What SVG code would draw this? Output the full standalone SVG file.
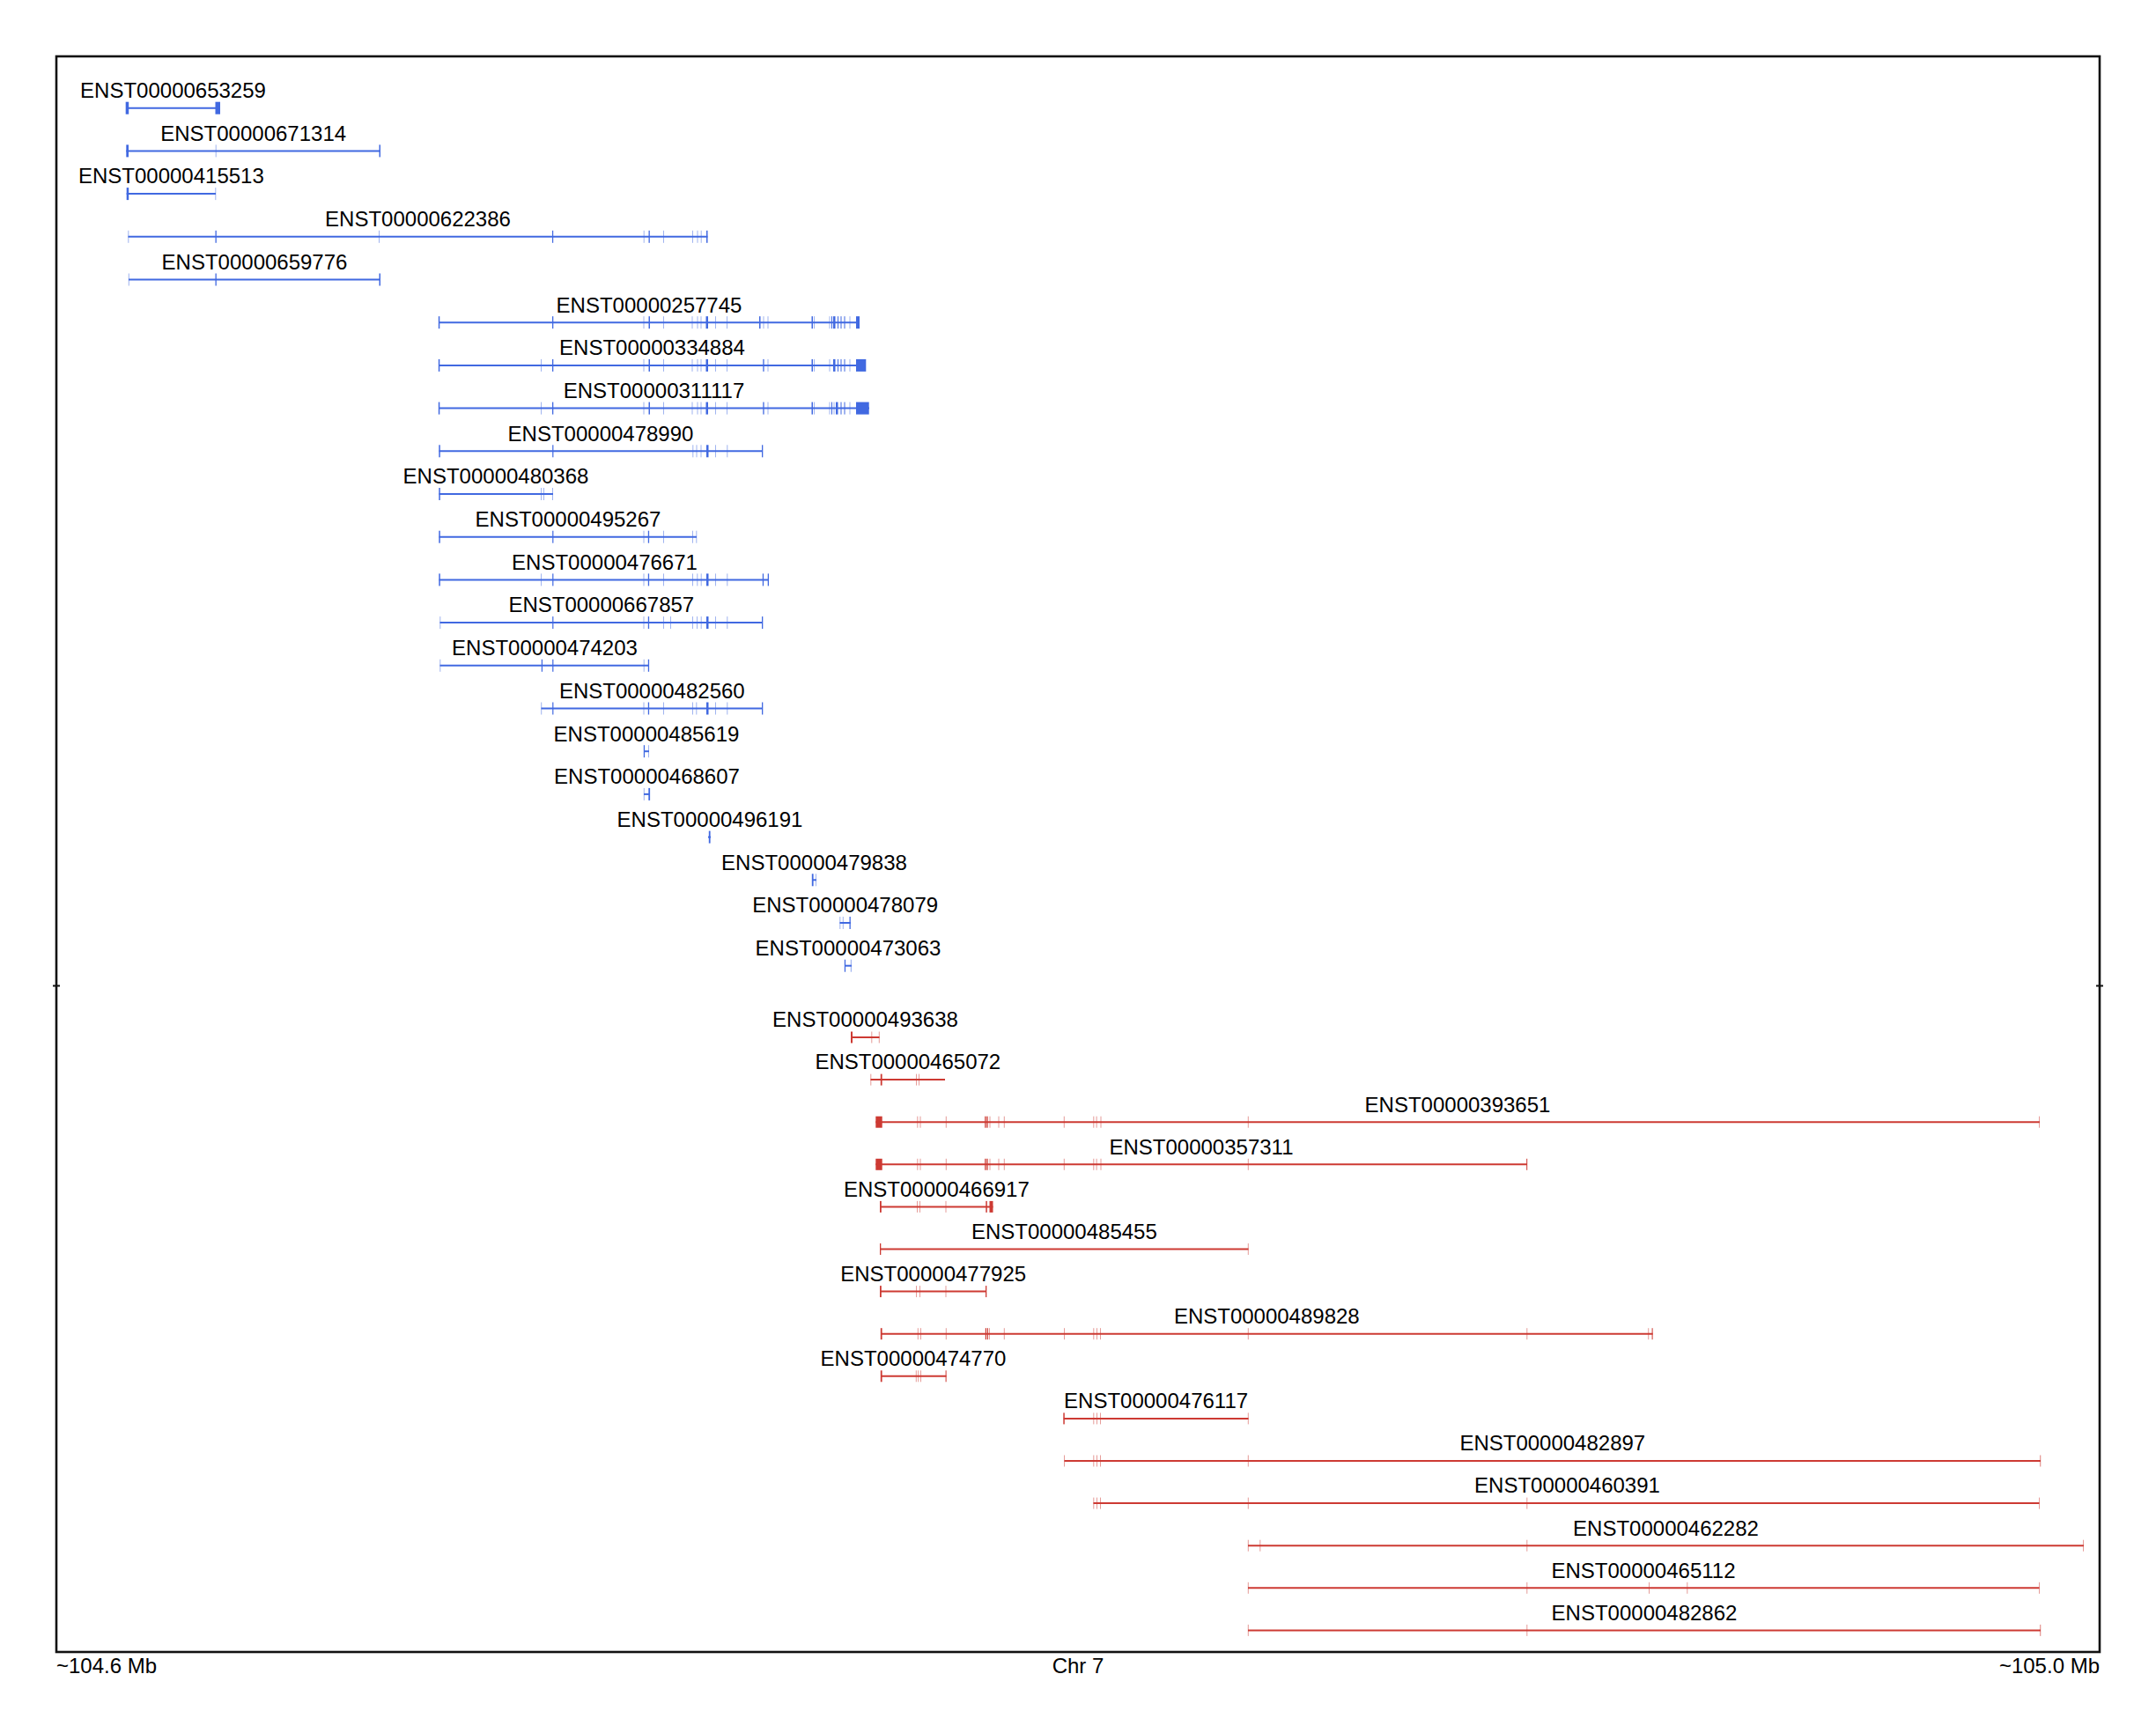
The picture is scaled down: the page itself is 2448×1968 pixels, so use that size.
<svg xmlns="http://www.w3.org/2000/svg" width="2448" height="1968" viewBox="0 0 2448 1968">
<style>
text{font-family:"Liberation Sans",Arial,Helvetica,sans-serif;font-size:24px;fill:#000}
.tx text{text-anchor:middle}
.b line{stroke:#4169E1;stroke-width:2}
.b rect{fill:#4169E1}
.r line{stroke:#CD3A33;stroke-width:2}
.r rect{fill:#CD3A33}
.l{opacity:.5}
.ax{font-size:24px}
</style>
<rect id="frame" x="64" y="64" width="2320" height="1812" fill="none" stroke="#111" stroke-width="2.6"/>
<g id="separator" stroke="#111" stroke-width="2"><line x1="60" y1="1119.5" x2="68" y2="1119.5"/><line x1="2380" y1="1119.5" x2="2388" y2="1119.5"/></g>

<g id="ENST00000653259" class="tx b" transform="translate(0,122.7)"><line x1="143" x2="250"/><rect x="142.7" y="-7" width="3.5" height="14"/><rect x="244.5" y="-7" width="5.5" height="14"/><text x="196.5" y="-11.7">ENST00000653259</text></g>
<g id="ENST00000671314" class="tx b" transform="translate(0,171.4)"><line x1="143.3" x2="432"/><rect x="143.3" y="-7" width="2.7" height="14"/><rect class="l" x="244.7" y="-7" width="1" height="14"/><rect x="430.5" y="-7" width="1.5" height="14"/><text x="287.7" y="-11.7">ENST00000671314</text></g>
<g id="ENST00000415513" class="tx b" transform="translate(0,220.1)"><line x1="143.7" x2="245"/><rect x="143.7" y="-7" width="2.5" height="14"/><rect class="l" x="244.3" y="-7" width="1" height="14"/><text x="194.4" y="-11.7">ENST00000415513</text></g>
<g id="ENST00000622386" class="tx b" transform="translate(0,268.8)"><line x1="145.5" x2="803.5"/><rect class="l" x="145.3" y="-7" width="1" height="14"/><rect x="244.5" y="-7" width="1.3" height="14"/><rect class="l" x="430" y="-7" width="1" height="14"/><rect x="627" y="-7" width="1.2" height="14"/><rect class="l" x="730.7" y="-7" width="1" height="14"/><rect x="736.5" y="-7" width="1.3" height="14"/><rect class="l" x="753" y="-7" width="1" height="14"/><rect class="l" x="786" y="-7" width="1" height="14"/><rect class="l" x="791.5" y="-7" width="1" height="14"/><rect class="l" x="795.7" y="-7" width="1" height="14"/><rect x="802" y="-7" width="1.5" height="14"/><text x="474.5" y="-11.7">ENST00000622386</text></g>
<g id="ENST00000659776" class="tx b" transform="translate(0,317.5)"><line x1="146" x2="432"/><rect class="l" x="145.8" y="-7" width="1" height="14"/><rect x="244.5" y="-7" width="1.3" height="14"/><rect x="430.5" y="-7" width="1.5" height="14"/><text x="289" y="-11.7">ENST00000659776</text></g>
<g id="ENST00000257745" class="tx b" transform="translate(0,366.2)"><line x1="498" x2="976"/><rect x="497.8" y="-7" width="1.5" height="14"/><rect x="627" y="-7" width="1.3" height="14"/><rect class="l" x="730.5" y="-7" width="1" height="14"/><rect x="736.5" y="-7" width="1.5" height="14"/><rect class="l" x="753" y="-7" width="1" height="14"/><rect class="l" x="785.5" y="-7" width="1" height="14"/><rect class="l" x="791.5" y="-7" width="1" height="14"/><rect class="l" x="795.5" y="-7" width="1" height="14"/><rect x="801.5" y="-7" width="2.5" height="14"/><rect class="l" x="812" y="-7" width="1" height="14"/><rect class="l" x="825" y="-7" width="1" height="14"/><rect x="862" y="-7" width="1.5" height="14"/><rect class="l" x="866.5" y="-7" width="1" height="14"/><rect class="l" x="871.5" y="-7" width="1" height="14"/><rect x="921.5" y="-7" width="1.5" height="14"/><rect class="l" x="924" y="-7" width="1" height="14"/><rect class="l" x="941.5" y="-7" width="1" height="14"/><rect x="944" y="-7" width="1" height="14"/><rect x="946" y="-7" width="2.5" height="14"/><rect x="951" y="-7" width="1" height="14"/><rect x="954.5" y="-7" width="1" height="14"/><rect x="958.5" y="-7" width="1" height="14"/><rect class="l" x="964.5" y="-7" width="1" height="14"/><rect x="972" y="-7" width="4" height="14"/><text x="737" y="-11.7">ENST00000257745</text></g>
<g id="ENST00000334884" class="tx b" transform="translate(0,414.9)"><line x1="498" x2="983"/><rect x="497.8" y="-7" width="1.5" height="14"/><rect class="l" x="614" y="-7" width="1" height="14"/><rect x="627" y="-7" width="1.3" height="14"/><rect class="l" x="730.5" y="-7" width="1" height="14"/><rect x="736.5" y="-7" width="1.5" height="14"/><rect class="l" x="753" y="-7" width="1" height="14"/><rect class="l" x="785.5" y="-7" width="1" height="14"/><rect class="l" x="791.5" y="-7" width="1" height="14"/><rect class="l" x="795.5" y="-7" width="1" height="14"/><rect x="801.5" y="-7" width="2.5" height="14"/><rect class="l" x="812" y="-7" width="1" height="14"/><rect class="l" x="825" y="-7" width="1" height="14"/><rect x="866.3" y="-7" width="1.3" height="14"/><rect class="l" x="871.5" y="-7" width="1" height="14"/><rect x="921.5" y="-7" width="1.5" height="14"/><rect class="l" x="924" y="-7" width="1" height="14"/><rect class="l" x="941.5" y="-7" width="1" height="14"/><rect x="946" y="-7" width="2.5" height="14"/><rect x="951" y="-7" width="1" height="14"/><rect x="954.5" y="-7" width="1" height="14"/><rect x="958.5" y="-7" width="1" height="14"/><rect class="l" x="964.5" y="-7" width="1" height="14"/><rect x="972" y="-7" width="11.3" height="14"/><text x="740.5" y="-11.7">ENST00000334884</text></g>
<g id="ENST00000311117" class="tx b" transform="translate(0,463.6)"><line x1="498" x2="987"/><rect x="497.8" y="-7" width="1.5" height="14"/><rect class="l" x="614" y="-7" width="1" height="14"/><rect x="627" y="-7" width="1.3" height="14"/><rect class="l" x="730.5" y="-7" width="1" height="14"/><rect x="736.5" y="-7" width="1.5" height="14"/><rect class="l" x="753" y="-7" width="1" height="14"/><rect class="l" x="785.5" y="-7" width="1" height="14"/><rect class="l" x="791.5" y="-7" width="1" height="14"/><rect class="l" x="795.5" y="-7" width="1" height="14"/><rect x="801.5" y="-7" width="2.5" height="14"/><rect class="l" x="812" y="-7" width="1" height="14"/><rect class="l" x="825" y="-7" width="1" height="14"/><rect x="866.3" y="-7" width="1.3" height="14"/><rect class="l" x="871.5" y="-7" width="1" height="14"/><rect x="921.5" y="-7" width="1.5" height="14"/><rect class="l" x="924" y="-7" width="1" height="14"/><rect class="l" x="941.5" y="-7" width="1" height="14"/><rect x="944" y="-7" width="1" height="14"/><rect class="l" x="946.5" y="-7" width="1" height="14"/><rect x="949" y="-7" width="2.5" height="14"/><rect x="954.5" y="-7" width="1" height="14"/><rect x="958.5" y="-7" width="1" height="14"/><rect class="l" x="964.5" y="-7" width="1" height="14"/><rect x="972" y="-7" width="14.7" height="14"/><text x="742.5" y="-11.7">ENST00000311117</text></g>
<g id="ENST00000478990" class="tx b" transform="translate(0,512.3)"><line x1="498.5" x2="866"/><rect x="498.3" y="-7" width="1.5" height="14"/><rect x="627.2" y="-7" width="1.2" height="14"/><rect class="l" x="786.3" y="-7" width="1" height="14"/><rect class="l" x="790.5" y="-7" width="1" height="14"/><rect class="l" x="795.5" y="-7" width="1" height="14"/><rect x="802" y="-7" width="2.5" height="14"/><rect class="l" x="812" y="-7" width="1" height="14"/><rect class="l" x="825.3" y="-7" width="1" height="14"/><rect x="865" y="-7" width="1.3" height="14"/><text x="682" y="-11.7">ENST00000478990</text></g>
<g id="ENST00000480368" class="tx b" transform="translate(0,561)"><line x1="498.5" x2="628"/><rect x="498.3" y="-7" width="1.5" height="14"/><rect class="l" x="614" y="-7" width="1" height="14"/><rect class="l" x="617" y="-7" width="1" height="14"/><rect class="l" x="627" y="-7" width="1" height="14"/><text x="563" y="-11.7">ENST00000480368</text></g>
<g id="ENST00000495267" class="tx b" transform="translate(0,609.7)"><line x1="498.5" x2="791"/><rect x="498.3" y="-7" width="1.5" height="14"/><rect x="627.2" y="-7" width="1.2" height="14"/><rect class="l" x="730.5" y="-7" width="1" height="14"/><rect x="735.8" y="-7" width="1.3" height="14"/><rect class="l" x="753" y="-7" width="1" height="14"/><rect class="l" x="786" y="-7" width="1" height="14"/><rect class="l" x="790.3" y="-7" width="1" height="14"/><text x="645" y="-11.7">ENST00000495267</text></g>
<g id="ENST00000476671" class="tx b" transform="translate(0,658.4)"><line x1="498.5" x2="873"/><rect x="498.3" y="-7" width="1.5" height="14"/><rect class="l" x="614" y="-7" width="1" height="14"/><rect x="627.2" y="-7" width="1.2" height="14"/><rect class="l" x="730.5" y="-7" width="1" height="14"/><rect x="735.8" y="-7" width="1.3" height="14"/><rect class="l" x="753" y="-7" width="1" height="14"/><rect class="l" x="786" y="-7" width="1" height="14"/><rect class="l" x="791.3" y="-7" width="1" height="14"/><rect class="l" x="795.7" y="-7" width="1" height="14"/><rect x="802" y="-7" width="2.5" height="14"/><rect class="l" x="812" y="-7" width="1" height="14"/><rect class="l" x="825.3" y="-7" width="1" height="14"/><rect x="865.8" y="-7" width="1.3" height="14"/><rect x="871.7" y="-7" width="1.3" height="14"/><text x="686.5" y="-11.7">ENST00000476671</text></g>
<g id="ENST00000667857" class="tx b" transform="translate(0,707.1)"><line x1="499.5" x2="866"/><rect class="l" x="499.3" y="-7" width="1" height="14"/><rect x="627.2" y="-7" width="1.2" height="14"/><rect class="l" x="730.5" y="-7" width="1" height="14"/><rect x="735.8" y="-7" width="1.3" height="14"/><rect class="l" x="753" y="-7" width="1" height="14"/><rect class="l" x="761" y="-7" width="1" height="14"/><rect class="l" x="786" y="-7" width="1" height="14"/><rect class="l" x="791" y="-7" width="1" height="14"/><rect class="l" x="795.7" y="-7" width="1" height="14"/><rect x="802" y="-7" width="2.5" height="14"/><rect class="l" x="812" y="-7" width="1" height="14"/><rect class="l" x="825.3" y="-7" width="1" height="14"/><rect x="865" y="-7" width="1.3" height="14"/><text x="682.8" y="-11.7">ENST00000667857</text></g>
<g id="ENST00000474203" class="tx b" transform="translate(0,755.8)"><line x1="499.5" x2="737"/><rect class="l" x="499.3" y="-7" width="1" height="14"/><rect x="614.8" y="-7" width="1.2" height="14"/><rect x="627.2" y="-7" width="1.2" height="14"/><rect class="l" x="730.7" y="-7" width="1" height="14"/><rect x="735.8" y="-7" width="1.3" height="14"/><text x="618.5" y="-11.7">ENST00000474203</text></g>
<g id="ENST00000482560" class="tx b" transform="translate(0,804.5)"><line x1="614.5" x2="866"/><rect class="l" x="614.2" y="-7" width="1" height="14"/><rect x="627.2" y="-7" width="1.2" height="14"/><rect class="l" x="730.5" y="-7" width="1" height="14"/><rect x="735.8" y="-7" width="1.3" height="14"/><rect class="l" x="753" y="-7" width="1" height="14"/><rect class="l" x="786" y="-7" width="1" height="14"/><rect class="l" x="790.3" y="-7" width="1" height="14"/><rect x="802" y="-7" width="2.5" height="14"/><rect class="l" x="812" y="-7" width="1" height="14"/><rect class="l" x="825.3" y="-7" width="1" height="14"/><rect x="865" y="-7" width="1.3" height="14"/><text x="740.3" y="-11.7">ENST00000482560</text></g>
<g id="ENST00000485619" class="tx b" transform="translate(0,853.2)"><line x1="731" x2="737"/><rect x="730.8" y="-7" width="1.3" height="14"/><rect class="l" x="736" y="-7" width="1" height="14"/><text x="734" y="-11.7">ENST00000485619</text></g>
<g id="ENST00000468607" class="tx b" transform="translate(0,901.9)"><line x1="731" x2="738"/><rect class="l" x="730.8" y="-7" width="1" height="14"/><rect x="736.3" y="-7" width="1.8" height="14"/><text x="734.5" y="-11.7">ENST00000468607</text></g>
<g id="ENST00000496191" class="tx b" transform="translate(0,950.6)"><line x1="804" x2="807"/><rect x="804.8" y="-7" width="1.8" height="14"/><text x="806" y="-11.7">ENST00000496191</text></g>
<g id="ENST00000479838" class="tx b" transform="translate(0,999.3)"><line x1="922" x2="927"/><rect x="921.8" y="-7" width="1.8" height="14"/><rect class="l" x="926" y="-7" width="1" height="14"/><text x="924.5" y="-11.7">ENST00000479838</text></g>
<g id="ENST00000478079" class="tx b" transform="translate(0,1048)"><line x1="953.5" x2="966"/><rect class="l" x="953.3" y="-7" width="1" height="14"/><rect class="l" x="956.8" y="-7" width="1" height="14"/><rect x="964.5" y="-7" width="1.3" height="14"/><text x="959.7" y="-11.7">ENST00000478079</text></g>
<g id="ENST00000473063" class="tx b" transform="translate(0,1096.7)"><line x1="959" x2="967"/><rect x="958.8" y="-7" width="1.3" height="14"/><rect class="l" x="965.8" y="-7" width="1.2" height="14"/><text x="963" y="-11.7">ENST00000473063</text></g>

<g id="ENST00000493638" class="tx r" transform="translate(0,1178)"><line x1="966.5" x2="998.5"/><rect x="966" y="-6.5" width="2" height="13"/><rect class="l" x="989.3" y="-6.5" width="1" height="13"/><rect class="l" x="997.8" y="-6.5" width="1" height="13"/><text x="982.5" y="-11.7">ENST00000493638</text></g>
<g id="ENST00000465072" class="tx r" transform="translate(0,1226.1)"><line x1="988.5" x2="1073"/><rect class="l" x="988.3" y="-6.5" width="1" height="13"/><rect x="999.8" y="-6.5" width="1.8" height="13"/><rect class="l" x="1040" y="-6.5" width="1" height="13"/><rect class="l" x="1043" y="-6.5" width="1" height="13"/><text x="1030.8" y="-11.7">ENST00000465072</text></g>
<g id="ENST00000393651" class="tx r" transform="translate(0,1274.2)"><line x1="994.3" x2="2316"/><rect x="994.3" y="-6.5" width="7.4" height="13"/><rect class="l" x="1041.3" y="-6.5" width="1" height="13"/><rect class="l" x="1044.5" y="-6.5" width="1" height="13"/><rect class="l" x="1073.8" y="-6.5" width="1" height="13"/><rect x="1118.2" y="-6.5" width="1.3" height="13"/><rect x="1120.3" y="-6.5" width="1.3" height="13"/><rect class="l" x="1123.5" y="-6.5" width="1" height="13"/><rect class="l" x="1133.5" y="-6.5" width="1" height="13"/><rect class="l" x="1139.8" y="-6.5" width="1" height="13"/><rect class="l" x="1207.8" y="-6.5" width="1" height="13"/><rect class="l" x="1241.3" y="-6.5" width="1" height="13"/><rect class="l" x="1244.6" y="-6.5" width="1" height="13"/><rect class="l" x="1249.5" y="-6.5" width="1" height="13"/><rect class="l" x="1416.8" y="-6.5" width="1" height="13"/><rect class="l" x="2315" y="-6.5" width="1" height="13"/><text x="1655" y="-11.7">ENST00000393651</text></g>
<g id="ENST00000357311" class="tx r" transform="translate(0,1322.3)"><line x1="994.3" x2="1734"/><rect x="994.3" y="-6.5" width="7.4" height="13"/><rect class="l" x="1041.3" y="-6.5" width="1" height="13"/><rect class="l" x="1044.5" y="-6.5" width="1" height="13"/><rect class="l" x="1073.8" y="-6.5" width="1" height="13"/><rect x="1118.2" y="-6.5" width="1.3" height="13"/><rect x="1120.3" y="-6.5" width="1.3" height="13"/><rect class="l" x="1123.5" y="-6.5" width="1" height="13"/><rect class="l" x="1133.5" y="-6.5" width="1" height="13"/><rect class="l" x="1139.8" y="-6.5" width="1" height="13"/><rect class="l" x="1207.8" y="-6.5" width="1" height="13"/><rect class="l" x="1241.3" y="-6.5" width="1" height="13"/><rect class="l" x="1244.6" y="-6.5" width="1" height="13"/><rect class="l" x="1249.5" y="-6.5" width="1" height="13"/><rect class="l" x="1416.8" y="-6.5" width="1" height="13"/><rect x="1733.2" y="-6.5" width="1" height="13"/><text x="1364" y="-11.7">ENST00000357311</text></g>
<g id="ENST00000466917" class="tx r" transform="translate(0,1370.4)"><line x1="999.3" x2="1127.5"/><rect x="999" y="-6.5" width="1.8" height="13"/><rect class="l" x="1041" y="-6.5" width="1" height="13"/><rect class="l" x="1044" y="-6.5" width="1" height="13"/><rect class="l" x="1073.5" y="-6.5" width="1" height="13"/><rect x="1119.3" y="-6.5" width="1.5" height="13"/><rect x="1123.5" y="-6.5" width="4" height="13"/><text x="1063.4" y="-11.7">ENST00000466917</text></g>
<g id="ENST00000485455" class="tx r" transform="translate(0,1418.5)"><line x1="999.3" x2="1417.5"/><rect x="999" y="-6.5" width="1.3" height="13"/><rect class="l" x="1416.8" y="-6.5" width="1" height="13"/><text x="1208.4" y="-11.7">ENST00000485455</text></g>
<g id="ENST00000477925" class="tx r" transform="translate(0,1466.6)"><line x1="999.3" x2="1120"/><rect x="999" y="-6.5" width="1.8" height="13"/><rect class="l" x="1040" y="-6.5" width="1" height="13"/><rect class="l" x="1044" y="-6.5" width="1" height="13"/><rect class="l" x="1073.5" y="-6.5" width="1" height="13"/><rect x="1119" y="-6.5" width="1.3" height="13"/><text x="1059.7" y="-11.7">ENST00000477925</text></g>
<g id="ENST00000489828" class="tx r" transform="translate(0,1514.7)"><line x1="1000" x2="1876.6"/><rect x="999.8" y="-6.5" width="1.8" height="13"/><rect class="l" x="1041.8" y="-6.5" width="1" height="13"/><rect class="l" x="1045" y="-6.5" width="1" height="13"/><rect class="l" x="1073.8" y="-6.5" width="1" height="13"/><rect x="1118.8" y="-6.5" width="1.3" height="13"/><rect x="1121" y="-6.5" width="1" height="13"/><rect class="l" x="1123" y="-6.5" width="1" height="13"/><rect class="l" x="1139.8" y="-6.5" width="1" height="13"/><rect class="l" x="1208" y="-6.5" width="1" height="13"/><rect class="l" x="1241.3" y="-6.5" width="1" height="13"/><rect class="l" x="1245" y="-6.5" width="1" height="13"/><rect class="l" x="1249" y="-6.5" width="1" height="13"/><rect class="l" x="1416.8" y="-6.5" width="1" height="13"/><rect class="l" x="1733.3" y="-6.5" width="1" height="13"/><rect class="l" x="1871.2" y="-6.5" width="1" height="13"/><rect x="1875.6" y="-6.5" width="1" height="13"/><text x="1438.3" y="-11.7">ENST00000489828</text></g>
<g id="ENST00000474770" class="tx r" transform="translate(0,1562.8)"><line x1="1000" x2="1074.5"/><rect x="999.8" y="-6.5" width="1.8" height="13"/><rect class="l" x="1039.8" y="-6.5" width="1" height="13"/><rect class="l" x="1042.2" y="-6.5" width="1" height="13"/><rect class="l" x="1045" y="-6.5" width="1" height="13"/><rect x="1073.6" y="-6.5" width="1" height="13"/><text x="1037" y="-11.7">ENST00000474770</text></g>
<g id="ENST00000476117" class="tx r" transform="translate(0,1610.9)"><line x1="1207.7" x2="1417.5"/><rect x="1207.3" y="-6.5" width="1.5" height="13"/><rect class="l" x="1241.3" y="-6.5" width="1" height="13"/><rect class="l" x="1245" y="-6.5" width="1" height="13"/><rect class="l" x="1249" y="-6.5" width="1" height="13"/><rect class="l" x="1416.8" y="-6.5" width="1" height="13"/><text x="1312.6" y="-11.7">ENST00000476117</text></g>
<g id="ENST00000482897" class="tx r" transform="translate(0,1659)"><line x1="1208.5" x2="2317"/><rect class="l" x="1208" y="-6.5" width="1" height="13"/><rect class="l" x="1241.3" y="-6.5" width="1" height="13"/><rect class="l" x="1245" y="-6.5" width="1" height="13"/><rect class="l" x="1249" y="-6.5" width="1" height="13"/><rect class="l" x="1416.8" y="-6.5" width="1" height="13"/><rect class="l" x="2316" y="-6.5" width="1.3" height="13"/><text x="1762.8" y="-11.7">ENST00000482897</text></g>
<g id="ENST00000460391" class="tx r" transform="translate(0,1707.1)"><line x1="1241.5" x2="2315.5"/><rect class="l" x="1241.3" y="-6.5" width="1" height="13"/><rect class="l" x="1245" y="-6.5" width="1" height="13"/><rect class="l" x="1249" y="-6.5" width="1" height="13"/><rect class="l" x="1416.8" y="-6.5" width="1" height="13"/><rect class="l" x="1733.3" y="-6.5" width="1" height="13"/><rect class="l" x="2315" y="-6.5" width="1" height="13"/><text x="1779.5" y="-11.7">ENST00000460391</text></g>
<g id="ENST00000462282" class="tx r" transform="translate(0,1755.2)"><line x1="1417" x2="2366"/><rect class="l" x="1416.8" y="-6.5" width="1" height="13"/><rect class="l" x="1430.3" y="-6.5" width="1" height="13"/><rect class="l" x="1733.3" y="-6.5" width="1" height="13"/><rect class="l" x="2365" y="-6.5" width="1" height="13"/><text x="1891.5" y="-11.7">ENST00000462282</text></g>
<g id="ENST00000465112" class="tx r" transform="translate(0,1803.3)"><line x1="1417" x2="2315.5"/><rect class="l" x="1416.8" y="-6.5" width="1" height="13"/><rect class="l" x="1733.3" y="-6.5" width="1" height="13"/><rect class="l" x="1872" y="-6.5" width="1" height="13"/><rect class="l" x="1915.3" y="-6.5" width="1" height="13"/><rect class="l" x="2315" y="-6.5" width="1" height="13"/><text x="1866" y="-11.7">ENST00000465112</text></g>
<g id="ENST00000482862" class="tx r" transform="translate(0,1851.4)"><line x1="1417" x2="2317"/><rect class="l" x="1416.8" y="-6.5" width="1" height="13"/><rect class="l" x="1733.3" y="-6.5" width="1" height="13"/><rect class="l" x="2316" y="-6.5" width="1.3" height="13"/><text x="1867" y="-11.7">ENST00000482862</text></g>

<g id="axis">
<text class="ax" x="64" y="1900">~104.6 Mb</text>
<text class="ax" x="1224" y="1900" text-anchor="middle">Chr 7</text>
<text class="ax" x="2384" y="1900" text-anchor="end">~105.0 Mb</text>
</g>
</svg>
